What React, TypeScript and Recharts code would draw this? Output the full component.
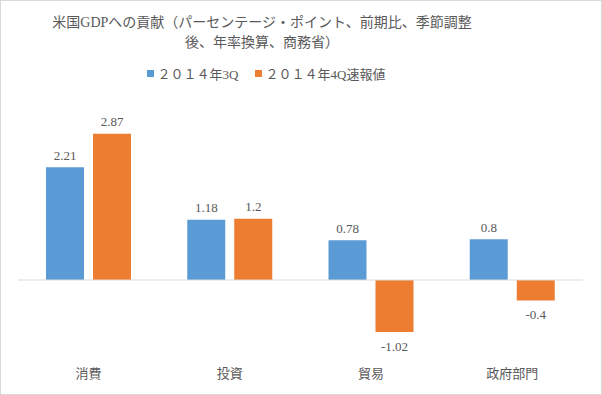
import React from "react";
import { BarChart, Bar, XAxis, YAxis, ReferenceLine, LabelList } from "recharts";

// カテゴリと系列データ
const categories = ["消費", "投資", "貿易", "政府部門"];
const q3Values = [2.21, 1.18, 0.78, 0.8];
const q4Values = [2.87, 1.2, -1.02, -0.4];
const seriesNames = ["２０１４年3Q", "２０１４年4Q速報値"];

const BLUE = "#5B9BD5";
const ORANGE = "#ED7D31";
const TEXT = "#595959";
const FONT = "'Liberation Serif', 'Noto Sans CJK JP', serif";

const data = categories.map((name, i) => ({
  name,
  q3: q3Values[i],
  q4: q4Values[i],
}));

// 負の値はバーの下、正の値はバーの上にラベルを置く
const renderLabel = (props: any) => {
  const { x, y, width, height, value } = props;
  const top = Math.min(y, y + height);
  const bottom = Math.max(y, y + height);
  const ty = value < 0 ? bottom + 14 : top - 12;
  return (
    <text
      x={x + width / 2}
      y={ty}
      textAnchor="middle"
      dominantBaseline="central"
      fill={TEXT}
      fontSize={13}
      fontFamily={FONT}
    >
      {value}
    </text>
  );
};

export default function App() {
  return (
    <div
      style={{
        position: "absolute",
        left: 0,
        top: 0,
        width: 602,
        height: 395,
        boxSizing: "border-box",
        border: "1px solid #d9d9d9",
        background: "#fff",
      }}
    >
      <div
        style={{
          position: "absolute",
          left: 40,
          width: 442,
          top: 12,
          textAlign: "center",
          fontSize: 14,
          lineHeight: "20px",
          color: TEXT,
          fontFamily: FONT,
          whiteSpace: "nowrap",
        }}
      >
        米国GDPへの貢献（パーセンテージ・ポイント、前期比、季節調整
        <br />
        後、年率換算、商務省）
      </div>
      <div
        style={{
          position: "absolute",
          left: 0,
          width: 530,
          top: 63,
          display: "flex",
          justifyContent: "center",
          gap: 16,
          fontSize: 13,
          color: TEXT,
          fontFamily: FONT,
          whiteSpace: "nowrap",
        }}
      >
        {seriesNames.map((n, i) => (
          <span key={n} style={{ display: "flex", alignItems: "center" }}>
            <span
              style={{
                width: 7,
                height: 7,
                background: i === 0 ? BLUE : ORANGE,
                marginRight: 4,
                display: "inline-block",
              }}
            />
            {n}
          </span>
        ))}
      </div>
      <BarChart
        width={600}
        height={393}
        data={data}
        margin={{ top: 100.5, right: 18, left: 17, bottom: 7.5 }}
        barSize={38}
        barGap={9}
      >
        <XAxis
          dataKey="name"
          axisLine={false}
          tickLine={false}
          height={30}
          tickMargin={6}
          tick={{ fill: TEXT, fontSize: 13, fontFamily: FONT }}
        />
        <YAxis hide domain={[-1.5, 3.5]} />
        <ReferenceLine y={0} stroke="#d9d9d9" strokeWidth={1} />
        <Bar dataKey="q3" name={seriesNames[0]} fill={BLUE} isAnimationActive={false}>
          <LabelList dataKey="q3" content={renderLabel} />
        </Bar>
        <Bar dataKey="q4" name={seriesNames[1]} fill={ORANGE} isAnimationActive={false}>
          <LabelList dataKey="q4" content={renderLabel} />
        </Bar>
      </BarChart>
    </div>
  );
}
